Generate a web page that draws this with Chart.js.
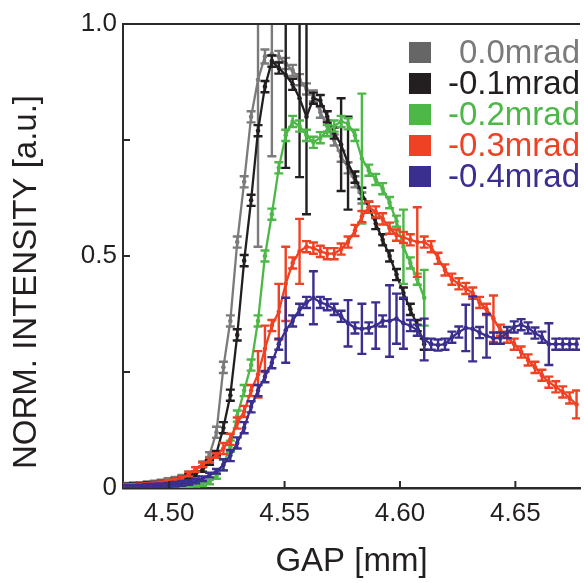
<!DOCTYPE html>
<html>
<head>
<meta charset="utf-8">
<script src="https://cdn.jsdelivr.net/npm/chart.js@4"></script>
<style>
  body { margin: 0; background: #fff; }
  canvas { display: block; }
</style>
</head>
<body>
<canvas id="myChart" width="584" height="583"></canvas>
<script>
// gap positions [mm], shared by all scans
const gap = [
    4.4815, 4.4845, 4.4875, 4.4905, 4.4935, 4.4965, 4.4995, 4.5025, 4.5055, 4.5085,
    4.5115, 4.5145, 4.5175, 4.5205, 4.5235, 4.5265, 4.5295, 4.5325, 4.5355, 4.5385,
    4.5415, 4.5445, 4.5475, 4.5505, 4.5535, 4.5565, 4.5595, 4.5625, 4.5655, 4.5685,
    4.5715, 4.5745, 4.5775, 4.5805, 4.5835, 4.5865, 4.5895, 4.5925, 4.5955, 4.5985,
    4.6015, 4.6045, 4.6075, 4.6105, 4.6135, 4.6165, 4.6195, 4.6225, 4.6255, 4.6285,
    4.6315, 4.6345, 4.6375, 4.6405, 4.6435, 4.6465, 4.6495, 4.6525, 4.6555, 4.6585,
    4.6615, 4.6645, 4.6675, 4.6705, 4.6735, 4.6765
];

const seriesLabels = ['0.0mrad', '-0.1mrad', '-0.2mrad', '-0.3mrad', '-0.4mrad'];
const seriesColors = ['#7b7b7b', '#231f20', '#4db848', '#ef4123', '#3a2e8f'];
const legendBoxColors = ['#666666', '#231f20', '#4db848', '#ef4123', '#3a2e8f'];

const int00 = [
    0.006, 0.007, 0.007, 0.009, 0.011, 0.013, 0.016, 0.019, 0.023, 0.03,
    0.04, 0.052, 0.072, 0.12, 0.26, 0.36, 0.53, 0.66, 0.80, 0.88,
    0.93, 0.935, 0.93, 0.915, 0.90, 0.88, 0.86, 0.845, 0.81, 0.78,
    0.75, 0.715, 0.69, 0.66, 0.625
];
const err00 = [
    0.005, 0.005, 0.005, 0.005, 0.005, 0.005, 0.005, 0.005, 0.005, 0.005,
    0.005, 0.005, 0.005, 0.012, 0.012, 0.012, 0.012, 0.012, 0.012, 0.36,
    0.015, 0.22, 0.012, 0.012, 0.012, 0.012, 0.012, 0.012, 0.012, 0.012,
    0.012, 0.012, 0.012, 0.012, 0.012
];

const int01 = [
    0.004, 0.005, 0.006, 0.007, 0.008, 0.01, 0.012, 0.015, 0.02, 0.025,
    0.03, 0.04, 0.055, 0.075, 0.13, 0.2, 0.33, 0.49, 0.62, 0.77,
    0.865, 0.92, 0.905, 0.89, 0.87, 0.84, 0.80, 0.84, 0.835, 0.80,
    0.765, 0.74, 0.70, 0.67, 0.635, 0.605, 0.57, 0.535, 0.50, 0.46,
    0.42, 0.385, 0.35, 0.31
];
const err01 = [
    0.005, 0.005, 0.005, 0.005, 0.005, 0.005, 0.005, 0.005, 0.005, 0.005,
    0.005, 0.005, 0.005, 0.005, 0.012, 0.012, 0.012, 0.012, 0.012, 0.012,
    0.012, 0.012, 0.012, 0.2, 0.012, 0.17, 0.21, 0.012, 0.012, 0.012,
    0.012, 0.1, 0.1, 0.012, 0.012, 0.012, 0.012, 0.012, 0.012, 0.012,
    0.012, 0.012, 0.012, 0.012
];

const int02 = [
    0.002, 0.002, 0.003, 0.003, 0.004, 0.004, 0.005, 0.005, 0.006, 0.007,
    0.008, 0.009, 0.013, 0.025, 0.05, 0.09, 0.155, 0.21, 0.265, 0.36,
    0.50, 0.59, 0.69, 0.76, 0.79, 0.78, 0.76, 0.745, 0.755, 0.77,
    0.78, 0.79, 0.785, 0.76, 0.71, 0.685, 0.665, 0.645, 0.615, 0.575,
    0.52, 0.485, 0.45, 0.41
];
const err02 = [
    0.005, 0.005, 0.005, 0.005, 0.005, 0.005, 0.005, 0.005, 0.005, 0.005,
    0.005, 0.005, 0.005, 0.005, 0.012, 0.012, 0.012, 0.012, 0.012, 0.012,
    0.012, 0.012, 0.012, 0.012, 0.012, 0.012, 0.012, 0.012, 0.012, 0.012,
    0.012, 0.012, 0.012, 0.012, 0.14, 0.012, 0.012, 0.012, 0.012, 0.012,
    0.08, 0.012, 0.012, 0.06
];

const int03 = [
    0.002, 0.003, 0.004, 0.005, 0.007, 0.009, 0.012, 0.015, 0.02, 0.03,
    0.04, 0.05, 0.06, 0.07, 0.085, 0.105, 0.14, 0.165, 0.21, 0.245,
    0.30, 0.35, 0.38, 0.44, 0.485, 0.51, 0.52, 0.517, 0.51, 0.505,
    0.505, 0.515, 0.53, 0.555, 0.585, 0.605, 0.595, 0.58, 0.56, 0.545,
    0.54, 0.535, 0.53, 0.53, 0.52, 0.495, 0.47, 0.45, 0.44, 0.43,
    0.42, 0.40, 0.385, 0.365, 0.34, 0.325, 0.31, 0.293, 0.276, 0.26,
    0.243, 0.228, 0.218, 0.207, 0.194, 0.18
];
const err03 = [
    0.005, 0.005, 0.005, 0.005, 0.005, 0.005, 0.005, 0.005, 0.005, 0.005,
    0.005, 0.005, 0.005, 0.005, 0.012, 0.012, 0.012, 0.012, 0.012, 0.05,
    0.05, 0.012, 0.06, 0.08, 0.012, 0.07, 0.012, 0.012, 0.012, 0.012,
    0.012, 0.012, 0.012, 0.012, 0.012, 0.012, 0.012, 0.012, 0.012, 0.012,
    0.012, 0.012, 0.075, 0.012, 0.012, 0.012, 0.012, 0.012, 0.012, 0.012,
    0.012, 0.012, 0.012, 0.05, 0.012, 0.012, 0.012, 0.012, 0.012, 0.012,
    0.012, 0.012, 0.012, 0.012, 0.012, 0.03
];

const int04 = [
    0.001, 0.001, 0.002, 0.003, 0.004, 0.005, 0.006, 0.008, 0.01, 0.012,
    0.015, 0.02, 0.028, 0.036, 0.05, 0.07, 0.097, 0.13, 0.175, 0.21,
    0.24, 0.27, 0.31, 0.34, 0.36, 0.385, 0.40, 0.41, 0.40, 0.395,
    0.385, 0.37, 0.355, 0.345, 0.343, 0.345, 0.35, 0.36, 0.36, 0.365,
    0.355, 0.35, 0.34, 0.32, 0.31, 0.308, 0.31, 0.325, 0.336, 0.345,
    0.343, 0.335, 0.328, 0.323, 0.323, 0.335, 0.347, 0.352, 0.345, 0.334,
    0.325, 0.31, 0.31, 0.31, 0.31, 0.31
];
const err04 = [
    0.005, 0.005, 0.005, 0.005, 0.005, 0.005, 0.005, 0.005, 0.005, 0.005,
    0.005, 0.005, 0.005, 0.005, 0.012, 0.012, 0.012, 0.012, 0.012, 0.012,
    0.012, 0.012, 0.012, 0.07, 0.012, 0.012, 0.012, 0.057, 0.012, 0.012,
    0.012, 0.012, 0.05, 0.012, 0.054, 0.012, 0.05, 0.012, 0.077, 0.054,
    0.055, 0.012, 0.012, 0.045, 0.012, 0.012, 0.012, 0.012, 0.012, 0.05,
    0.07, 0.012, 0.047, 0.012, 0.012, 0.012, 0.012, 0.012, 0.012, 0.012,
    0.012, 0.045, 0.012, 0.012, 0.012, 0.012
];

const intensities = [int00, int01, int02, int03, int04];
const errors = [err00, err01, err02, err03, err04];

const xTicks = [4.50, 4.55, 4.60, 4.65];
const yTicks = [0, 0.5, 1.0];
const yTickLabels = ['0', '0.5', '1.0'];
const yMarks = [0.25, 0.5, 0.75];
const yTitle = 'NORM. INTENSITY [a.u.]';

const axisColor = '#2a2a2a';
const textColor = '#231f20';
const fontFamily = '"Liberation Sans", Arial, Helvetica, sans-serif';


function buildDatasets() {
    let sets = [];
    for (let k = 0; k < intensities.length; k++) {
        let pts = [];
        for (let i = 0; i < intensities[k].length; i++) {
            pts.push({x: gap[i], y: intensities[k][i]});
        }
        sets.push({
            label: seriesLabels[k],
            data: pts,
            errors: errors[k],
            borderColor: seriesColors[k],
            backgroundColor: seriesColors[k],
            borderWidth: 2.3,
            pointRadius: 2.3,
            pointBorderWidth: 0,
            tension: 0,
            order: intensities.length - k
        });
    }
    return sets;
}

// vertical error bars with caps, drawn right after each dataset
const errorBars = {
    id: 'errorBars',
    afterDatasetDraw(chart, args) {
        const ds = chart.data.datasets[args.index];
        const {ctx, chartArea} = chart;
        const x = chart.scales.x, y = chart.scales.y;
        ctx.save();
        ctx.beginPath();
        ctx.rect(chartArea.left, chartArea.top, chartArea.right - chartArea.left, chartArea.bottom - chartArea.top);
        ctx.clip();
        ctx.strokeStyle = ds.borderColor;
        ctx.lineWidth = 2.4;
        for (let i = 0; i < ds.data.length; i++) {
            const e = ds.errors[i];
            const px = x.getPixelForValue(ds.data[i].x);
            const top = y.getPixelForValue(ds.data[i].y + e);
            const bot = y.getPixelForValue(ds.data[i].y - e);
            ctx.beginPath();
            ctx.moveTo(px, top); ctx.lineTo(px, bot);
            ctx.moveTo(px - 4.5, top); ctx.lineTo(px + 4.5, top);
            ctx.moveTo(px - 4.5, bot); ctx.lineTo(px + 4.5, bot);
            ctx.stroke();
        }
        ctx.restore();
    }
};

// inward tick marks, top frame line and the rotated y title
const frame = {
    id: 'frame',
    afterDatasetsDraw(chart) {
        const {ctx, chartArea} = chart;
        const x = chart.scales.x, y = chart.scales.y;
        ctx.save();
        ctx.strokeStyle = axisColor;
        ctx.lineWidth = 2;
        ctx.beginPath();
        ctx.moveTo(chartArea.left, chartArea.top);
        ctx.lineTo(chartArea.right, chartArea.top);
        for (const v of xTicks) {
            const px = x.getPixelForValue(v);
            ctx.moveTo(px, chartArea.bottom);
            ctx.lineTo(px, chartArea.bottom - 7);
        }
        for (const v of yMarks) {
            const py = y.getPixelForValue(v);
            ctx.moveTo(chartArea.left, py);
            ctx.lineTo(chartArea.left + 7, py);
        }
        ctx.stroke();

        // title sits a bit below the centre of the axis in the original
        ctx.translate(27, 282);
        ctx.rotate(-Math.PI / 2);
        ctx.font = '33px ' + fontFamily;
        ctx.fillStyle = textColor;
        ctx.textAlign = 'center';
        ctx.textBaseline = 'middle';
        ctx.fillText(yTitle, 0, 0);
        ctx.restore();
    }
};

// legend: colour squares with right aligned coloured text
const legendBox = {
    id: 'legendBox',
    afterDraw(chart) {
        const ctx = chart.ctx;
        ctx.save();
        ctx.font = '33px ' + fontFamily;
        ctx.textAlign = 'right';
        ctx.textBaseline = 'middle';
        for (let k = 0; k < seriesLabels.length; k++) {
            const cy = 52.5 + 31 * k;
            ctx.fillStyle = legendBoxColors[k];
            ctx.fillRect(409, cy - 10.5, 22, 21);
            ctx.fillStyle = seriesColors[k];
            ctx.fillText(seriesLabels[k], 580, cy + 1);
        }
        ctx.restore();
    }
};


function drawChart() {
    const ctx = document.getElementById('myChart');

    new Chart(ctx, {
        type: 'line',
        data: {datasets: buildDatasets()},
        options: {
            responsive: false,
            animation: false,
            events: [],
            layout: {padding: {top: 24, right: 0, left: 0, bottom: 0}},
            plugins: {
                legend: {display: false},
                tooltip: {enabled: false}
            },
            scales: {
                x: {
                    type: 'linear',
                    min: 4.48,
                    max: 4.678,
                    afterBuildTicks: (s) => { s.ticks = xTicks.map(v => ({value: v})); },
                    afterFit: (s) => { s.height = 95; },
                    grid: {display: false, drawTicks: false},
                    border: {color: axisColor, width: 2.5},
                    ticks: {
                        color: textColor,
                        padding: 10,
                        maxRotation: 0,
                        font: {family: fontFamily, size: 26},
                        callback: (v) => v.toFixed(2)
                    },
                    title: {
                        display: true,
                        text: 'GAP [mm]',
                        color: textColor,
                        padding: {top: 0, bottom: 1},
                        font: {family: fontFamily, size: 33}
                    }
                },
                y: {
                    min: 0,
                    max: 1,
                    afterBuildTicks: (s) => { s.ticks = yTicks.map(v => ({value: v})); },
                    afterFit: (s) => { s.width = 123; },
                    grid: {display: false, drawTicks: false},
                    border: {color: axisColor, width: 2},
                    ticks: {
                        color: textColor,
                        padding: 6,
                        font: {family: fontFamily, size: 26},
                        callback: (v) => yTickLabels[yTicks.indexOf(v)]
                    },
                    title: {display: false}
                }
            }
        },
        plugins: [errorBars, frame, legendBox]
    });
}

drawChart();
</script>
</body>
</html>
